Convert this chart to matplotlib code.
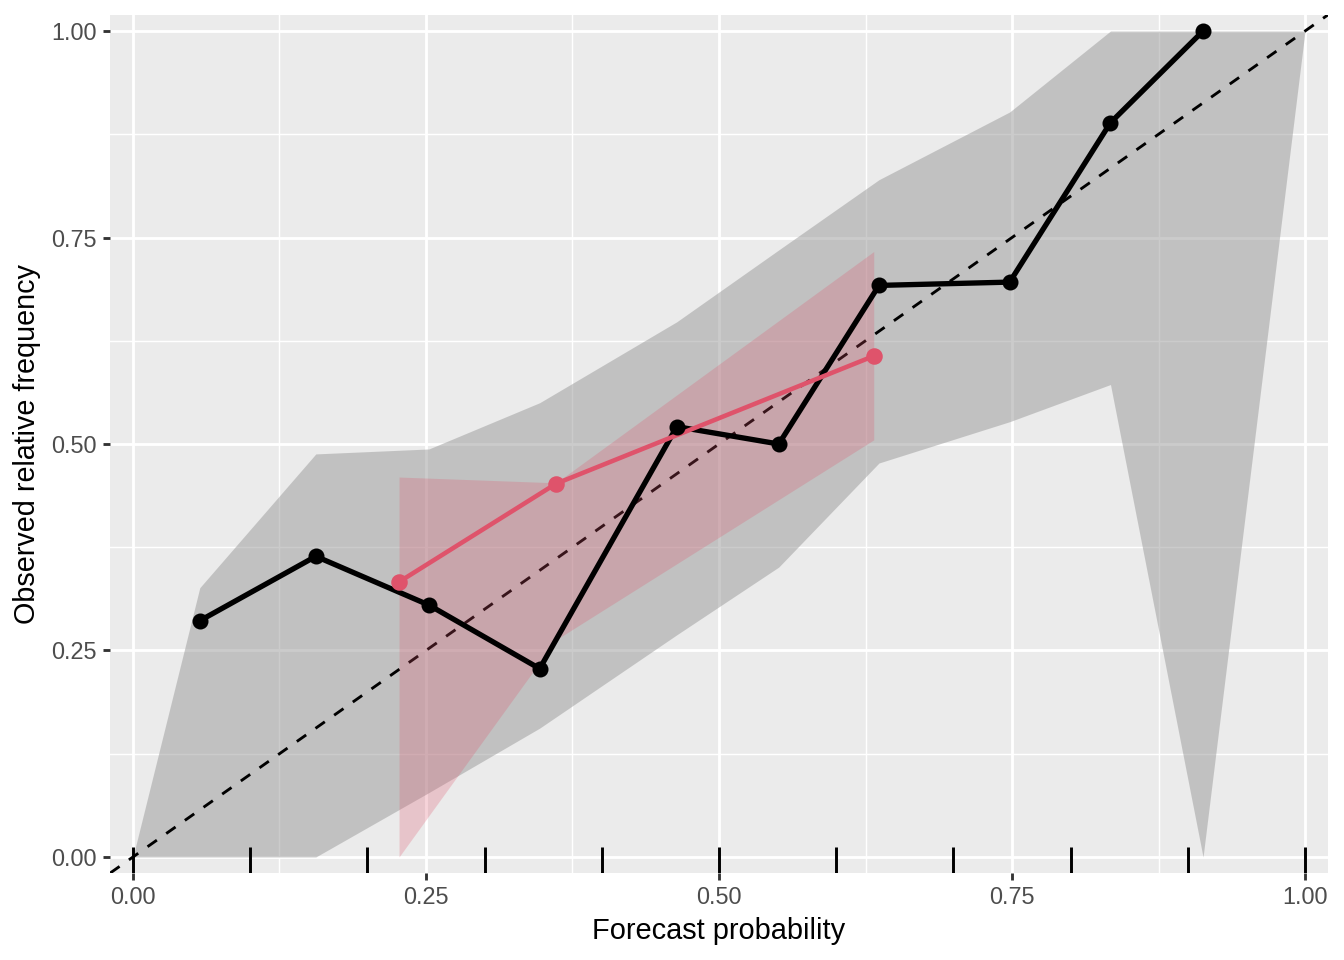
import matplotlib
matplotlib.use("Agg")
import matplotlib.pyplot as plt
import matplotlib.transforms as mtransforms

plt.rcParams['font.family'] = ['Liberation Sans', 'DejaVu Sans']

# reliability curve, black series
x_black = [0.057, 0.156, 0.2525, 0.347, 0.464, 0.551, 0.6365, 0.748, 0.834, 0.913]
obs_black = [0.286, 0.364, 0.305, 0.228, 0.521, 0.500, 0.692, 0.696, 0.889, 1.000]

# consistency band for black series (includes endpoints 0 and 1)
band_x = [0.0, 0.057, 0.156, 0.2525, 0.347, 0.464, 0.551, 0.6365, 0.748, 0.834, 0.913, 1.0]
band_upper = [0.0, 0.326, 0.488, 0.494, 0.550, 0.648, 0.735, 0.820, 0.902, 1.0, 1.0, 1.0]
band_lower = [0.0, 0.0, 0.0, 0.078, 0.156, 0.269, 0.351, 0.477, 0.527, 0.572, 0.0, 1.0]

# red series with its band
x_red = [0.227, 0.361, 0.632]
obs_red = [0.333, 0.452, 0.6065]
red_upper = [0.460, 0.453, 0.733]
red_lower = [0.0, 0.263, 0.505]

# bin breaks shown as rug
rug_x = [0.0, 0.1, 0.2, 0.3, 0.4, 0.5, 0.6, 0.7, 0.8, 0.9, 1.0]

ticks = [0.0, 0.25, 0.5, 0.75, 1.0]
tick_labels = ["0.00", "0.25", "0.50", "0.75", "1.00"]
minor_ticks = [0.125, 0.375, 0.625, 0.875]

red = "#DF536B"

fig = plt.figure(figsize=(7, 5), dpi=192)
ax = fig.add_axes([110 / 1344, 1 - 873 / 960, 1218 / 1344, 858 / 960])
ax.set_facecolor("#EBEBEB")
for s in ax.spines.values():
    s.set_visible(False)

ax.set_xlim(-0.0196, 1.0196)
ax.set_ylim(-0.0194, 1.0194)

ax.set_xticks(ticks)
ax.set_xticklabels(tick_labels)
ax.set_yticks(ticks)
ax.set_yticklabels(tick_labels)
ax.set_xticks(minor_ticks, minor=True)
ax.set_yticks(minor_ticks, minor=True)
ax.tick_params(which="major", length=2.75, width=1.07, color="#333333",
               labelsize=8.8, labelcolor="#4D4D4D", pad=2.2)
ax.tick_params(which="minor", length=0)
ax.grid(which="major", color="white", linewidth=1.07)
ax.grid(which="minor", color="white", linewidth=0.53)
ax.set_axisbelow(True)

ax.fill_between(band_x, band_lower, band_upper, color="#999999", alpha=0.5,
                linewidth=0, zorder=2)
ax.axline((0, 0), (1, 1), color="black", linewidth=1.07, linestyle=(0, (4, 4)),
          zorder=3)
ax.fill_between(x_red, red_lower, red_upper, color=red, alpha=0.25,
                linewidth=0, zorder=4)

trans = mtransforms.blended_transform_factory(ax.transData, ax.transAxes)
for xr in rug_x:
    ax.plot([xr, xr], [0, 0.03], color="black", linewidth=1.1, transform=trans,
            zorder=5, solid_capstyle="butt")

ax.plot(x_black, obs_black, color="black", linewidth=2.0, zorder=6)
ax.plot(x_red, obs_red, color=red, linewidth=1.7, zorder=6.5)
ax.plot(x_red, obs_red, "o", color=red, markersize=5.2, zorder=7)
ax.plot(x_black, obs_black, "o", color="black", markersize=5, zorder=7.5)

ax.set_xlabel("Forecast probability", fontsize=10.9, labelpad=3)
ax.set_ylabel("Observed relative frequency", fontsize=10.8, labelpad=4)

fig.savefig("out.png", dpi=192)
